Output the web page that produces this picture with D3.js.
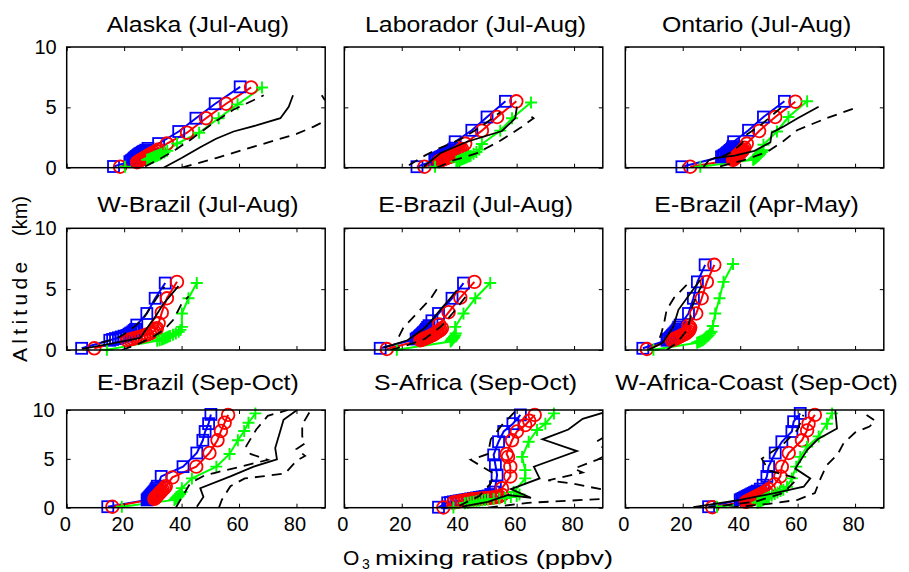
<!DOCTYPE html>
<meta charset="utf-8">
<style>
body { margin: 0; background: #fff; }
svg text { font-family: "Liberation Sans", Arial, sans-serif; fill: #000; }
.axis text { font-family: "Liberation Sans Narrow", "Liberation Sans", Arial, sans-serif; font-size: 20px; }
.axis line { stroke: #000; stroke-width: 1; }
</style>
<svg width="909" height="572"></svg>
<script src="https://cdn.jsdelivr.net/npm/d3@7"></script>
<script>

// panel titles, row by row
var titles = ["Alaska (Jul-Aug)", "Laborador (Jul-Aug)", "Ontario (Jul-Aug)",
              "W-Brazil (Jul-Aug)", "E-Brazil (Jul-Aug)", "E-Brazil (Apr-May)",
              "E-Brazil (Sep-Oct)", "S-Africa (Sep-Oct)", "W-Africa-Coast (Sep-Oct)"];

var xTicks = [0, 20, 40, 60, 80];
var yTicks = [0, 5, 10];

// [O3 ppbv, altitude km], one list per panel
var blueSquares = [
  [[16.3,0.1],[22,0.5],[22.5,0.58],[23,0.65],[23.3,0.72],[23.6,0.8],[24,0.87],[24.3,0.94],[24.7,1.0],[25,1.07],[25.4,1.14],[25.8,1.2],[26.3,1.28],[26.8,1.36],[27.5,1.45],[28.3,1.6],[32,2.0],[39,3.0],[45,4.1],[51.7,5.3],[60.4,6.7]],
  [[25.3,0.08],[31.5,0.6],[32,0.68],[32.5,0.75],[33,0.82],[33.5,0.88],[34,0.94],[34.5,1.0],[35,1.06],[35.5,1.12],[36,1.19],[36.5,1.26],[37,1.33],[37.5,1.4],[38,1.5],[38.5,1.62],[38.6,2.15],[44.4,3.1],[49.7,4.2],[56.1,5.5]],
  [[19.7,0.08],[33.5,0.9],[34,0.97],[34.5,1.04],[35,1.1],[35.3,1.17],[35.6,1.24],[36,1.3],[36.3,1.37],[36.6,1.44],[37,1.52],[37.3,1.62],[37.5,1.75],[37.7,2.15],[42.9,3.1],[48.1,4.2],[55.4,5.5]],
  [[5.2,0.14],[15,0.8],[16,0.87],[17,0.94],[18,1.0],[19,1.07],[20,1.14],[21,1.2],[21.7,1.3],[22.3,1.4],[23,1.5],[23.5,1.6],[24,1.7],[24.4,2.05],[27.9,3.0],[30.8,4.25],[34.3,5.5]],
  [[12.5,0.14],[25,0.9],[25.5,0.98],[26,1.05],[26.3,1.13],[26.6,1.2],[27,1.28],[27.3,1.35],[27.6,1.43],[28,1.5],[28.3,1.6],[28.6,1.7],[29,1.85],[29.5,2.0],[30.5,2.4],[32.8,3.0],[37.5,4.25],[41.5,5.5]],
  [[6.1,0.14],[14.5,0.8],[15,0.88],[15.5,0.95],[15.8,1.03],[16.1,1.1],[16.4,1.18],[16.7,1.25],[17,1.33],[17.3,1.4],[17.6,1.5],[18,1.6],[18.3,1.72],[18.6,1.88],[19.1,2.05],[22,3.0],[23.7,4.25],[25.1,5.6],[27.8,7.0]],
  [[14.3,0.1],[28,0.8],[28.3,0.9],[28.6,1.0],[28.9,1.1],[29.2,1.2],[29.5,1.3],[29.8,1.4],[30.1,1.5],[30.4,1.6],[30.7,1.7],[31,1.85],[31.3,2.0],[31.6,2.2],[32.9,3.2],[40.5,4.2],[45.3,5.6],[47.4,6.9],[48.2,7.8],[49.4,8.6],[50.2,9.55]],
  [[32.8,0.05],[36,0.5],[37,0.55],[38,0.6],[39,0.65],[40,0.7],[41,0.75],[42,0.8],[43,0.85],[44,0.9],[45,0.95],[46,1.0],[47,1.05],[48,1.1],[49,1.15],[50,1.2],[51,1.35],[52,1.6],[52.6,2.15],[53.2,3.35],[52.6,4.4],[52,5.4],[53.7,6.75],[55.5,7.8],[58.7,8.6],[61.3,9.5]],
  [[29,0.1],[40,0.8],[40.5,0.87],[41,0.95],[41.5,1.02],[42,1.1],[42.5,1.17],[43,1.25],[43.5,1.32],[44,1.4],[44.5,1.47],[45,1.55],[45.5,1.62],[46,1.7],[47,1.9],[48,2.3],[49.3,3.2],[49.9,4.2],[52.2,5.6],[54.5,6.75],[58,7.8],[58.6,8.8],[60.9,9.65]]
];

var redCircles = [
  [[18.6,0.08],[24.5,0.45],[25,0.52],[25.5,0.6],[26,0.67],[26.5,0.74],[27,0.81],[27.5,0.88],[28,0.95],[28.5,1.02],[29,1.1],[29.7,1.18],[30.4,1.27],[31.2,1.38],[32,1.52],[34.9,2.0],[41.9,2.9],[48.5,4.1],[55.5,5.3],[64.2,6.65]],
  [[27.9,0.08],[33,0.55],[33.5,0.6],[34,0.65],[34.5,0.7],[35,0.75],[35.5,0.8],[36,0.85],[36.5,0.9],[37,0.95],[37.5,1.0],[38,1.05],[38.5,1.12],[39,1.2],[39.5,1.27],[40,1.35],[40.5,1.45],[41,1.55],[42.1,2.0],[47.9,3.07],[53.2,4.2],[59.9,5.5]],
  [[22.6,0.08],[37.5,0.65],[37.8,0.72],[38.1,0.79],[38.4,0.86],[38.7,0.93],[39,1.0],[39.3,1.07],[39.6,1.14],[39.9,1.21],[40.2,1.28],[40.5,1.35],[40.8,1.42],[41.1,1.5],[41.5,1.65],[42.3,2.0],[46.6,3.04],[52.2,4.2],[59.2,5.47]],
  [[9.6,0.14],[21,0.8],[22,0.86],[23,0.92],[24,1.0],[25,1.06],[26,1.12],[27,1.2],[28,1.27],[29,1.35],[29.7,1.45],[30.4,1.55],[31,1.67],[31.4,1.8],[32,2.2],[33.1,3.07],[34.9,4.25],[38.4,5.6]],
  [[14.8,0.08],[26.5,0.8],[27,0.85],[27.5,0.9],[28,0.95],[28.5,1.0],[29,1.05],[29.5,1.1],[30,1.15],[30.5,1.2],[31,1.27],[31.5,1.35],[32,1.42],[32.5,1.5],[33,1.57],[33.5,1.65],[34,1.8],[33,2.1],[36.3,3.1],[40.4,4.3],[45.3,5.6]],
  [[7.5,0.08],[16.2,0.8],[16.8,0.87],[17.4,0.94],[18,1.0],[18.6,1.07],[19.2,1.14],[19.8,1.21],[20.4,1.28],[21,1.35],[21.5,1.45],[22,1.55],[22.4,1.7],[22.6,1.85],[22,2.0],[24.7,3.0],[26.6,4.25],[28.4,5.6],[31,7.0]],
  [[15.9,0.1],[30.5,0.9],[30.8,1.0],[31.1,1.1],[31.4,1.2],[31.7,1.3],[32,1.4],[32.3,1.5],[32.6,1.6],[33,1.7],[33.4,1.85],[34,2.0],[34.5,2.2],[36.8,3.1],[45.1,4.2],[49.7,5.6],[52.5,6.9],[53.7,7.85],[55,8.7],[56.2,9.5]],
  [[34.5,0.02],[38,0.55],[39,0.6],[40,0.65],[41,0.7],[42,0.75],[43,0.8],[44,0.85],[45,0.87],[46,0.9],[47,0.92],[48,0.95],[49,0.97],[50,1.0],[51,1.02],[52,1.05],[53,1.1],[54,1.15],[55,1.3],[54.9,2.0],[57.8,3.2],[57.8,4.2],[57,5.2],[56.5,5.5],[58.4,6.9],[60.1,7.8],[63,8.45],[64.4,8.9],[66.3,9.5]],
  [[30.3,0.05],[42,0.6],[42.5,0.67],[43,0.75],[43.5,0.82],[44,0.9],[44.5,0.97],[45,1.05],[45.5,1.12],[46,1.2],[46.5,1.27],[47,1.35],[47.5,1.42],[48,1.5],[49,1.7],[50,1.9],[52,2.4],[54,3.2],[54.5,4.2],[56.9,5.6],[61.5,6.9],[63.3,7.9],[63.8,8.6],[66,9.5]]
];

var greenPlus = [
  [[20.3,0.08],[28,0.65],[28.5,0.7],[29,0.75],[29.5,0.8],[30,0.85],[30.5,0.9],[31,0.95],[31.5,1.0],[32,1.05],[32.5,1.1],[33,1.15],[34,1.25],[35,1.4],[38.4,2.0],[46.1,2.9],[52.9,4.1],[59.5,5.25],[68,6.65]],
  [[31.6,0.08],[39,0.5],[39.5,0.55],[40,0.6],[40.5,0.65],[41,0.7],[41.5,0.75],[42,0.8],[42.5,0.85],[43,0.9],[43.5,0.95],[44,1.0],[45,1.15],[46,1.3],[47,1.5],[47.9,1.96],[54.3,3.07],[58.4,4.1],[65,5.4]],
  [[26.1,0.08],[44.5,0.65],[44.8,0.7],[45,0.75],[45.3,0.8],[45.5,0.85],[45.8,0.9],[46,0.95],[46.3,1.0],[46.5,1.05],[47,1.15],[47.5,1.3],[48,1.45],[48.1,1.9],[52.8,3.0],[56.8,4.2],[63.3,5.5]],
  [[14,0.02],[31.5,0.75],[32.3,0.8],[33,0.85],[33.5,0.9],[34,0.95],[34.5,1.0],[35,1.05],[35.5,1.1],[36,1.15],[37,1.25],[38,1.35],[39,1.5],[39.6,1.65],[40.1,1.9],[40.1,3.0],[42.4,4.25],[45.3,5.5]],
  [[18.3,0.02],[37,0.7],[37.2,0.75],[37.3,0.8],[37.5,0.85],[37.6,0.9],[37.8,0.95],[38,1.0],[38.2,1.05],[38.3,1.1],[38.6,1.2],[38.8,1.35],[38.6,1.9],[41.5,3.0],[45.6,4.25],[50.8,5.5]],
  [[9.8,0.02],[25,0.6],[25.5,0.65],[26,0.7],[26.5,0.75],[27,0.8],[27.5,0.9],[28,1.0],[28.5,1.1],[29,1.2],[29.5,1.35],[30,1.5],[30.5,1.97],[31.3,3.0],[32.8,4.25],[34.2,5.6],[37.5,7.07]],
  [[19.2,0.1],[37.5,0.8],[37.8,0.88],[38,0.95],[38.3,1.03],[38.5,1.1],[38.8,1.18],[39,1.25],[39.5,1.4],[40,1.6],[40.1,2.0],[43.6,3.0],[52.1,4.2],[56.7,5.5],[59.6,6.9],[61.8,7.85],[63.3,8.7],[65.7,9.65]],
  [[38,0.02],[42,0.45],[43,0.5],[44,0.55],[45,0.6],[46,0.65],[47,0.7],[48,0.75],[49,0.8],[50,0.85],[52,0.9],[54,0.95],[56,1.0],[58,1.1],[60,1.2],[61,1.35],[59,1.6],[63,3.0],[63,3.85],[61.9,5.2],[64.2,6.75],[67.1,7.95],[70,8.6],[73,9.65]],
  [[31.9,0.1],[46,0.5],[46.5,0.57],[47,0.65],[47.5,0.72],[48,0.8],[48.5,0.87],[49,0.95],[49.5,1.02],[50,1.1],[51,1.25],[52,1.4],[53,1.55],[54,1.7],[55,1.85],[56.3,2.15],[58,3.0],[59.5,4.2],[60.9,5.2],[63.3,6.25],[67.3,7.3],[70.2,8.6],[72,9.65]]
];

// observed mean (solid) and mean -/+ std (dashed)
var obsMean = [
  [[33.7,0],[40,0.8],[46.5,1.7],[52,2.4],[58.1,3.0],[66,3.5],[74.4,4.1],[77.3,5.05],[78.8,6.0]],
  [[27.6,0.08],[33.4,1.2],[42.7,2.15],[54.9,3.04],[59.5,4.1],[60.1,5.05]],
  [[27.2,0.05],[29,0.6],[31,0.8],[38,1.0],[45,1.4],[50.5,2.1],[51,2.9],[55,3.4],[60,4.1],[67.3,5.05]],
  [[5.4,0.1],[15,0.5],[25.6,1.0],[28,1.8],[31,2.8],[33.7,3.8],[38.9,5.25]],
  [[13.6,0.2],[18,0.5],[22,0.8],[28,1.8],[31,2.6],[33.4,3.3],[36,4.0],[39.2,4.9]],
  [[8,0],[13,0.6],[16.7,1.9],[18.5,3.3],[22.6,4.65],[26.1,5.75]],
  [[45.3,0.1],[47.6,1.1],[46.5,2.0],[57,3.2],[65.1,4.2],[73.2,4.95],[72.6,6.1],[74,7.5],[75.5,9.0],[80.2,10]],
  [[41,0.1],[50,0.6],[57,1.3],[65,1.0],[58,1.9],[68,3.0],[66,4.2],[81,5.8],[69,7.0],[78,8.0],[83,9.1],[91,9.8]],
  [[23.7,0.05],[40,0.8],[52,1.5],[62.1,2.15],[64.4,3.0],[59.2,4.0],[63.3,5.9],[67,7.0],[73.7,8.1],[73.1,10]]
];

var obsLow = [
  [[27.3,0.1],[33,0.8],[38,1.5],[43,2.3],[51,3.7],[58,4.8],[68.6,6.0]],
  [[22.5,0.2],[28,1.0],[33,1.6],[40,2.3],[47,3.3],[51,4.0],[54.3,4.6]],
  [[33.6,0.9],[37,1.3],[40.5,2.0],[42,2.7],[47,3.5],[54.6,5.05]],
  [[12,0.6],[17,0.9],[20,1.3],[24,2.0],[27,2.7],[30,3.8],[34,5.2]],
  [[19,1.1],[20.5,1.8],[22,2.2],[26,3.2],[30,4.2],[32.5,5.1]],
  [[12,1.0],[12.7,1.5],[13.5,2.2],[14.4,3.3],[17,4.3],[22,5.5]],
  [[38,0],[40,1.0],[43,2.5],[48,3.3],[52,3.6],[62,4.3],[70,4.9],[64,5.5],[62.5,6.3],[66,8.0],[70,9.4],[77,10]],
  [[40,0.2],[47,1.2],[51,2.5],[52,3.5],[44,4.9],[50,5.5],[51,7.0],[55,8.5],[60,10]],
  [[28,0],[45,0.6],[55,1.5],[60,3.0],[50,3.8],[47.5,5.0],[55,6.5],[60,8.0],[62,9.5]]
];

var obsHigh = [
  [[40.1,0],[52,0.8],[66,1.8],[80,2.8],[86,3.4],[95,4.5],[90.3,5.45],[88.8,6.0]],
  [[32.2,0],[38,0.6],[46.2,1.2],[54,2.2],[61.3,3.3],[65.9,4.1],[63.5,4.5]],
  [[33,0.1],[41,0.6],[49.3,1.3],[55,2.2],[59.8,3.1],[70,4.1],[81.3,5.05]],
  [[19.2,0],[25,0.5],[30.2,1.1],[34,1.7],[37.2,2.5],[40.1,3.85],[42.5,4.4]],
  [[16,0],[22,0.4],[28,0.9],[34,2.0],[38,3.1],[41,4.0],[43,4.6]],
  [[14.4,0],[18,0.6],[21.4,1.6],[22.5,2.5],[23.2,3.5],[24.5,4.3],[26.6,5.3]],
  [[53,0],[54,0.8],[57,2.2],[62,3.0],[68,3.2],[76,3.5],[80,4.8],[83,5.3],[80,6.0],[83,6.6],[82,7.3],[82,8.5],[85,10]],
  [[50,0],[64,0.5],[90,0.9],[96,1.5],[79,2.5],[71,2.8],[83,3.6],[80,4.0],[88,4.9],[92,5.5],[88,6.8],[92,7.5],[99,9]],
  [[36,0],[50,0.4],[60,0.8],[66,1.5],[68,3.0],[70,4.3],[74,5.5],[76,6.6],[80,7.7],[85,8.3],[87,8.9],[84,9.5]]
];

// layout
var colLeft = [66.7, 344.3, 625.3], panelW = 258.5;
var rowBox = [[47, 167.7], [228.3, 350], [410, 507.7]];
var titleBase = [32, 212, 390];

var svg = d3.select("svg");
var defs = svg.append("defs");

titles.forEach(function(title, i) {
  var col = i % 3, row = Math.floor(i / 3);
  var x0 = colLeft[col], top = rowBox[row][0], bottom = rowBox[row][1];

  var x = d3.scaleLinear().domain([0, 90]).range([x0, x0 + panelW]);
  var y = d3.scaleLinear().domain([0, 10]).range([bottom, top]);

  var clipId = "clip" + i;
  defs.append("clipPath").attr("id", clipId).append("rect")
      .attr("x", x0).attr("y", top).attr("width", panelW).attr("height", bottom - top);

  var g = svg.append("g");
  var lines = g.append("g").attr("clip-path", "url(#" + clipId + ")");
  var line = d3.line().x(function(d) { return x(d[0]); }).y(function(d) { return y(d[1]); });

  // axes, ticks pointing inward
  var xb = d3.axisBottom(x).tickValues(xTicks).tickSizeInner(-4).tickSizeOuter(0).tickPadding(9);
  if (row < 2) xb.tickFormat("");
  var yl = d3.axisLeft(y).tickValues(yTicks).tickSizeInner(-4).tickSizeOuter(0).tickPadding(10);
  if (col > 0) yl.tickFormat("");
  var xt = d3.axisTop(x).tickValues(xTicks).tickSizeInner(-4).tickSizeOuter(0).tickFormat("");
  var yr = d3.axisRight(y).tickValues(yTicks).tickSizeInner(-4).tickSizeOuter(0).tickFormat("");

  g.append("g").attr("class", "axis").attr("transform", "translate(0," + bottom + ")").call(xb);
  g.append("g").attr("class", "axis").attr("transform", "translate(" + x0 + ",0)").call(yl);
  g.append("g").attr("class", "axis").attr("transform", "translate(0," + top + ")").call(xt);
  g.append("g").attr("class", "axis").attr("transform", "translate(" + (x0 + panelW) + ",0)").call(yr);
  g.selectAll(".domain").remove();
  g.selectAll(".axis text").attr("fill", "#000");
  g.selectAll(".axis .tick text").filter(function() { return this.textContent !== ""; })
      .attr("dx", row === 2 ? -2 : 0);

  // model lines
  lines.append("path").datum(blueSquares[i]).attr("d", line)
      .attr("fill", "none").attr("stroke", "#0000ff").attr("stroke-width", 2);
  lines.append("path").datum(redCircles[i]).attr("d", line)
      .attr("fill", "none").attr("stroke", "#ff0000").attr("stroke-width", 2);
  lines.append("path").datum(greenPlus[i]).attr("d", line)
      .attr("fill", "none").attr("stroke", "#00ff00").attr("stroke-width", 2);

  // markers
  g.append("g").selectAll("rect").data(blueSquares[i]).join("rect")
      .attr("x", function(d) { return x(d[0]) - 5.5; })
      .attr("y", function(d) { return y(d[1]) - 5.5; })
      .attr("width", 11).attr("height", 11)
      .attr("fill", "none").attr("stroke", "#0000ff").attr("stroke-width", 1.8);
  g.append("g").selectAll("circle").data(redCircles[i]).join("circle")
      .attr("cx", function(d) { return x(d[0]); })
      .attr("cy", function(d) { return y(d[1]); })
      .attr("r", 6.3)
      .attr("fill", "none").attr("stroke", "#ff0000").attr("stroke-width", 1.8);
  g.append("g").selectAll("path").data(greenPlus[i]).join("path")
      .attr("d", "M-6,0H6M0,-6V6")
      .attr("transform", function(d) { return "translate(" + x(d[0]) + "," + y(d[1]) + ")"; })
      .attr("fill", "none").attr("stroke", "#00ff00").attr("stroke-width", 1.9);

  // observations
  var obs = g.append("g").attr("clip-path", "url(#" + clipId + ")");
  obs.append("path").datum(obsMean[i]).attr("d", line)
      .attr("fill", "none").attr("stroke", "#000").attr("stroke-width", 1.8);
  [obsLow[i], obsHigh[i]].forEach(function(s) {
    obs.append("path").datum(s).attr("d", line)
        .attr("fill", "none").attr("stroke", "#000").attr("stroke-width", 1.8)
        .attr("stroke-dasharray", "10,7");
  });

  // frame
  g.append("rect").attr("x", x0).attr("y", top).attr("width", panelW).attr("height", bottom - top)
      .attr("fill", "none").attr("stroke", "#000").attr("stroke-width", 1.5);

  // title, stretched a bit to match the wide original lettering
  var t = svg.append("text")
      .attr("x", x0 + panelW / 2 + 2).attr("y", titleBase[row])
      .attr("text-anchor", "middle").style("font-size", "22px")
      .text(title);
  var len = t.node().getComputedTextLength();
  t.attr("textLength", len * 1.13).attr("lengthAdjust", "spacingAndGlyphs");
});

// y label
svg.append("text").attr("transform", "translate(27,362) rotate(-90)")
    .style("font-size", "21px").style("letter-spacing", "4.3px")
    .text("Altitude");
svg.append("text").attr("transform", "translate(27,236) rotate(-90)")
    .style("font-size", "20px")
    .text("(km)");

// x label
svg.append("text").attr("x", 343).attr("y", 565).style("font-size", "21px").text("O");
svg.append("text").attr("x", 362).attr("y", 569).style("font-size", "14px").text("3");
svg.append("text").attr("x", 375).attr("y", 565).style("font-size", "21px")
    .attr("textLength", 238).attr("lengthAdjust", "spacingAndGlyphs")
    .text("mixing ratios (ppbv)");

</script>
